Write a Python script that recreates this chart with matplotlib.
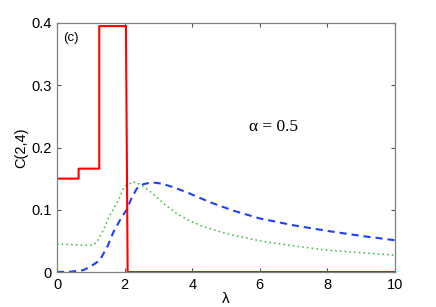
import matplotlib
matplotlib.use("Agg")
import matplotlib.pyplot as plt

# ── data ────────────────────────────────────────────────────────────────
red_x = [0, 0.64, 0.64, 1.25, 1.25, 2.04, 2.09, 10]
red_y = [0.15, 0.15, 0.166, 0.166, 0.395, 0.395, 0.0, 0.0]

blue_x = [0, 0.4, 0.78, 1.0, 1.27, 1.5, 1.66, 1.86, 2.06, 2.2, 2.36, 2.55,
          2.8, 3.1, 3.45, 3.84, 4.53, 5.22, 6.0, 7.0, 8.0, 9.0, 10.0]
blue_y = [0.0, 0.0005, 0.003, 0.009, 0.019, 0.042, 0.063, 0.083, 0.100,
          0.118, 0.134, 0.141, 0.144, 0.142, 0.136, 0.128, 0.112, 0.0985,
          0.086, 0.075, 0.066, 0.058, 0.051]

green_x = [0, 0.4, 0.8, 1.07, 1.2, 1.37, 1.55, 1.77, 2.0, 2.26, 2.5, 2.85,
           3.2, 3.54, 3.9, 4.33, 4.8, 5.22, 6.1, 7.0, 8.0, 9.0, 10.0]
green_y = [0.045, 0.044, 0.043, 0.043, 0.05, 0.067, 0.09, 0.11, 0.138,
           0.145, 0.140, 0.125, 0.108, 0.094, 0.083, 0.073, 0.065, 0.059,
           0.049, 0.042, 0.035, 0.031, 0.027]

x_ticks = [0, 2, 4, 6, 8, 10]
y_ticks = [0, 0.1, 0.2, 0.3, 0.4]
y_tick_labels = ["0", "0.1", "0.2", "0.3", "0.4"]

plt.rcParams["font.family"] = ["Liberation Sans", "DejaVu Sans"]

fig = plt.figure(figsize=(4.36, 3.07), dpi=100)
ax = fig.add_axes([57 / 436, 1 - 272 / 307, (395 - 57) / 436, (272 - 23) / 307])

ax.plot(blue_x, blue_y, color="#1f3fff", linestyle=(0, (3.4, 2.4)), linewidth=1.5)
ax.plot(green_x, green_y, color="#33bb33", linestyle=(0, (1, 2.1)), linewidth=1.1)
ax.plot(red_x, red_y, color="#ff0000", linewidth=1.5)

ax.set_xlim(0, 10)
ax.set_ylim(0, 0.4)
ax.set_xticks(x_ticks)
ax.set_xticklabels([str(t) for t in x_ticks])
ax.set_yticks(y_ticks)
ax.set_yticklabels(y_tick_labels)
ax.tick_params(direction="in", top=True, right=True, length=3,
               color="#555555", labelsize=10.5, pad=4)
for s in ax.spines.values():
    s.set_color("#808080")
    s.set_linewidth(0.9)

ax.set_ylabel("C(2,4)", fontsize=10.5, labelpad=2)
ax.set_xlabel("λ", fontsize=11, labelpad=0)

ax.text(0.18, 0.376, "(c)", fontsize=9.5, ha="left", va="center")
ax.text(6.4, 0.233, "α = 0.5", fontsize=12.5, ha="center", va="center",
        family=["Liberation Serif", "DejaVu Serif"])

fig.savefig("out.png", dpi=100)
